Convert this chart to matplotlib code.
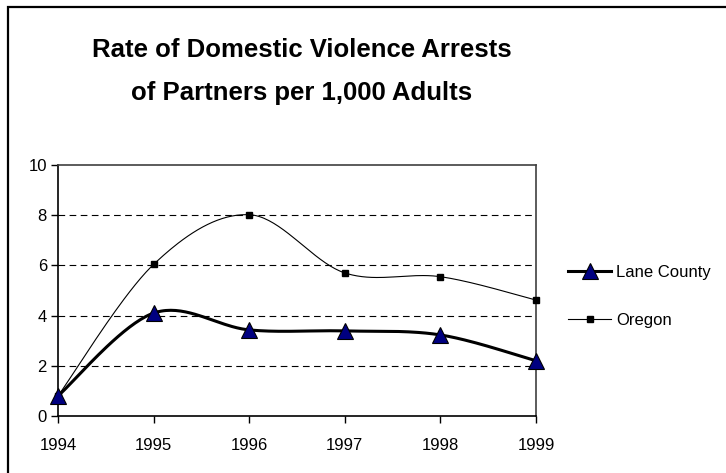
import numpy as np
import matplotlib
matplotlib.use("Agg")
import matplotlib.pyplot as plt
from matplotlib.patches import Rectangle
from matplotlib.lines import Line2D

plt.rcParams['font.family'] = ['Liberation Sans', 'DejaVu Sans']

years = [1994, 1995, 1996, 1997, 1998, 1999]
lane_county = [0.8, 4.1, 3.43, 3.39, 3.23, 2.2]
oregon = [0.8, 6.04, 8.02, 5.7, 5.55, 4.62]
y_ticks = [0, 2, 4, 6, 8, 10]
title_lines = ["Rate of Domestic Violence Arrests", "of Partners per 1,000 Adults"]


def smooth(xs, ys, n=40):
    """Catmull-Rom style cubic Bezier through the points."""
    xs = np.asarray(xs, float)
    ys = np.asarray(ys, float)
    px = np.concatenate([[xs[0]], xs, [xs[-1]]])
    py = np.concatenate([[ys[0]], ys, [ys[-1]]])
    out_x, out_y = [], []
    t = np.linspace(0, 1, n)
    for i in range(1, len(px) - 2):
        p0 = np.array([px[i], py[i]])
        p3 = np.array([px[i + 1], py[i + 1]])
        c1 = p0 + (np.array([px[i + 1], py[i + 1]]) - np.array([px[i - 1], py[i - 1]])) / 6
        c2 = p3 - (np.array([px[i + 2], py[i + 2]]) - np.array([px[i], py[i]])) / 6
        b = ((1 - t) ** 3)[:, None] * p0 + (3 * (1 - t) ** 2 * t)[:, None] * c1 \
            + (3 * (1 - t) * t ** 2)[:, None] * c2 + (t ** 3)[:, None] * p3
        out_x.extend(b[:, 0])
        out_y.extend(b[:, 1])
    return np.array(out_x), np.array(out_y)


W, H = 726, 473
fig = plt.figure(figsize=(W / 100, H / 100), dpi=100)

# outer chart border
fig.patches.append(Rectangle((8 / W, -0.1), 1.2, 1 - 7.5 / H + 0.1, transform=fig.transFigure,
                             fill=False, edgecolor='black', linewidth=1.6))

ax = fig.add_axes([58 / W, (H - 416) / H, (536 - 58) / W, (416 - 165) / H])

ax.set_xlim(years[0], years[-1])
ax.set_ylim(0, 10)
ax.set_xticks(years)
ax.set_yticks(y_ticks)
ax.tick_params(axis='both', labelsize=12, direction='out', length=5, width=1, color='black')
ax.tick_params(axis='x', pad=11)
ax.tick_params(axis='y', pad=3)

for v in y_ticks[1:-1]:
    ax.axhline(v, color='black', linestyle=(0, (6, 4)), linewidth=0.8, zorder=1)

for side in ['left', 'bottom']:
    ax.spines[side].set_color('black')
    ax.spines[side].set_linewidth(1.2)
for side in ['top', 'right']:
    ax.spines[side].set_color('#404040')
    ax.spines[side].set_linewidth(1.2)

ox, oy = smooth(years, oregon)
ax.plot(ox, oy, color='black', linewidth=0.8, zorder=2, clip_on=False)
ax.plot(years, oregon, linestyle='none', marker='s', markersize=5, color='black', zorder=3, clip_on=False)

lx, ly = smooth(years, lane_county)
ax.plot(lx, ly, color='black', linewidth=2.2, zorder=4, clip_on=False)
ax.plot(years, lane_county, linestyle='none', marker='^', markersize=11,
        markerfacecolor='#000080', markeredgecolor='black', markeredgewidth=0.8,
        zorder=5, clip_on=False)

handles = [
    Line2D([], [], color='black', linewidth=2.2, marker='^', markersize=11,
           markerfacecolor='#000080', markeredgecolor='black', markeredgewidth=0.8),
    Line2D([], [], color='black', linewidth=0.8, marker='s', markersize=5),
]
fig.legend(handles, ['Lane County', 'Oregon'], loc='upper left',
           bbox_to_anchor=(568 / W, 1 - 265 / H), frameon=False, fontsize=12,
           handlelength=2.6, handletextpad=0.3, labelspacing=1.95, borderpad=0,
           borderaxespad=0)

fig.text(302 / W, 1 - 50 / H, title_lines[0], ha='center', va='center',
         fontsize=18.5, fontweight='bold')
fig.text(302 / W, 1 - 93 / H, title_lines[1], ha='center', va='center',
         fontsize=18.5, fontweight='bold')

fig.savefig('out.png', dpi=100)
